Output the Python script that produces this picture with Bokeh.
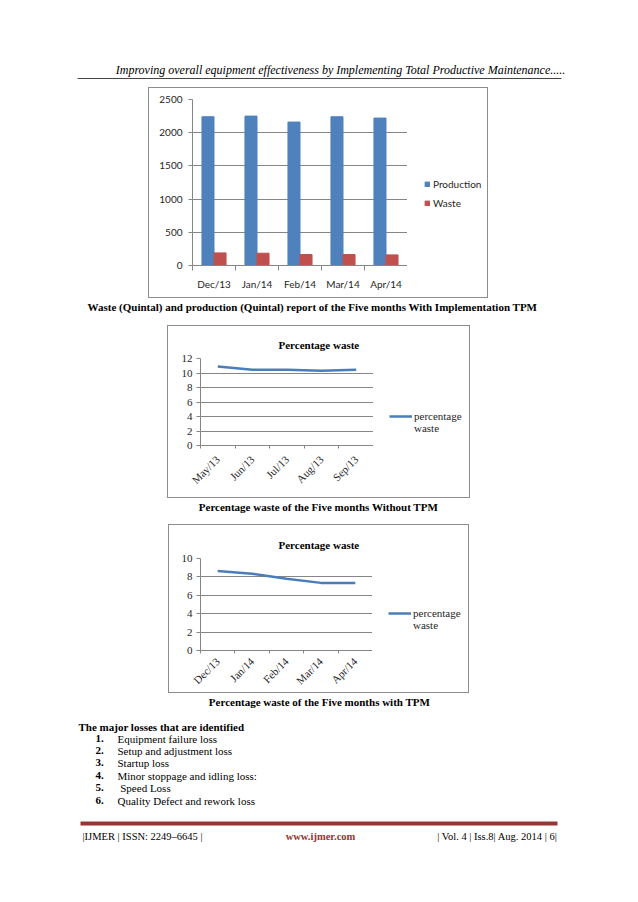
from bokeh.plotting import figure
from bokeh.models import Range1d, Label, Legend, LegendItem, FixedTicker, Spacer
from bokeh.layouts import column, row
from bokeh.embed import file_html
from bokeh.resources import INLINE

# ---------------- data ----------------
header_text = "Improving overall equipment effectiveness by Implementing Total Productive Maintenance....."
months_tpm = ["Dec/13", "Jan/14", "Feb/14", "Mar/14", "Apr/14"]
production = [2240, 2250, 2160, 2240, 2220]
waste = [190, 185, 165, 165, 160]
bar_ticks = [0, 500, 1000, 1500, 2000, 2500]
bar_series = ["Production", "Waste"]

months_pre = ["May/13", "Jun/13", "Jul/13", "Aug/13", "Sep/13"]
pct_waste_without = [10.9, 10.45, 10.45, 10.3, 10.45]
pct_ticks_without = [0, 2, 4, 6, 8, 10, 12]

pct_waste_with = [8.65, 8.35, 7.8, 7.35, 7.35]
pct_ticks_with = [0, 2, 4, 6, 8, 10]

chart_title = "Percentage waste"
legend_words = ["percentage", "waste"]
caption1 = "Waste (Quintal) and production (Quintal) report of the Five months With Implementation TPM"
caption2 = "Percentage waste of the Five months Without TPM"
caption3 = "Percentage waste of the Five months with TPM"
losses_title = "The major losses that are identified"
losses = ["Equipment failure loss", "Setup and adjustment loss", "Startup loss",
          "Minor stoppage and idling loss:", "\u00a0Speed Loss", "Quality Defect and rework loss"]
footer_left = "|IJMER | ISSN: 2249\u20136645 |"
footer_mid = "www.ijmer.com"
footer_right = "| Vol. 4 | Iss.8| Aug. 2014 | 6|"

NAN = float("nan")  # legend-only swatch renderers carry no visible data

# ---------------- styles ----------------
BLUE = "#4F81BD"
RED = "#C0504D"
LINE = "#4A7EBB"
GRID = "#868686"
BOX = "#8C8C8C"
MAROON = "#943634"
TXT = "#262626"
SERIF = "Liberation Serif"
SANS = "Lato"
PAGE_W = 630
BOX_STYLE = {"outline": "1px solid " + BOX, "outline-offset": "-1px"}


def blank_fig(w, h):
    f = figure(width=w, height=h, x_range=Range1d(0, w), y_range=Range1d(h, 0),
               toolbar_location=None, output_backend="svg", min_border=0,
               x_axis_location=None, y_axis_location=None)
    f.grid.visible = False
    f.outline_line_color = None
    f.border_fill_alpha = 0
    f.background_fill_alpha = 0
    return f


def txt(f, x, y, s, size="11px", style="normal", align="left", color="black"):
    f.add_layout(Label(x=x, y=y, text=s, text_font=SERIF, text_font_size=size,
                       text_font_style=style, text_align=align, text_baseline="middle",
                       text_color=color))


def style_axes(p, font, size):
    for ax in (p.xaxis, p.yaxis):
        ax.axis_line_color = GRID
        ax.major_label_text_font = font
        ax.major_label_text_font_size = size
        ax.major_label_text_color = TXT
    p.xaxis.major_tick_line_color = None
    p.xaxis.minor_tick_line_color = GRID
    p.xaxis.minor_tick_in = 0
    p.yaxis.major_tick_line_color = GRID
    p.yaxis.major_tick_in = 0
    p.yaxis.major_tick_out = 4
    p.yaxis.minor_tick_line_color = None
    p.xgrid.visible = False
    p.ygrid.grid_line_color = GRID
    p.outline_line_color = None
    p.border_fill_alpha = 0


# ---------------- header ----------------
head = blank_fig(PAGE_W, 87)
txt(head, 340, 69, header_text, size="12px", style="italic", align="center")
head.segment(x0=[77], y0=[78], x1=[561], y1=[78], line_color="#444444", line_width=1)

# ---------------- chart 1: bars ----------------
n1 = len(months_tpm)
xc1 = [i + 0.5 for i in range(n1)]
p1 = figure(width=259, height=211, x_range=Range1d(0, n1), y_range=Range1d(bar_ticks[0], bar_ticks[-1]),
            toolbar_location=None, output_backend="svg",
            min_border_left=44, min_border_right=0, min_border_top=12, min_border_bottom=33)
p1.vbar(x=[x - 0.14 for x in xc1], top=production, width=0.28, color=BLUE)
p1.vbar(x=[x + 0.14 for x in xc1], top=waste, width=0.28, color=RED)
style_axes(p1, SANS, "10px")
p1.xaxis.ticker = FixedTicker(ticks=xc1, minor_ticks=list(range(n1 + 1)))
p1.xaxis.major_label_overrides = {x: m for x, m in zip(xc1, months_tpm)}
p1.xaxis.minor_tick_out = 5
p1.yaxis.ticker = FixedTicker(ticks=bar_ticks)
p1.xaxis.major_label_standoff = 6
p1.yaxis.major_label_standoff = 6

# legend panel (its frame is aligned with the chart frame by the row layout)
lg1 = blank_fig(81, 211)
lr_prod = lg1.vbar(x=[NAN], top=[NAN], width=0.28, color=BLUE)
lr_waste = lg1.vbar(x=[NAN], top=[NAN], width=0.28, color=RED)
lg1.add_layout(Legend(items=[LegendItem(label=bar_series[0], renderers=[lr_prod]),
                             LegendItem(label=bar_series[1], renderers=[lr_waste])],
                      location=(17, 56), glyph_width=6, glyph_height=6, label_standoff=3,
                      label_height=12, spacing=7, padding=0, margin=0,
                      border_line_color=None, background_fill_alpha=0,
                      label_text_font=SANS, label_text_font_size="10px", label_text_color=TXT))
box1 = row(p1, lg1, styles=BOX_STYLE)

# ---------------- caption 1 ----------------
cap1 = blank_fig(PAGE_W, 27)
txt(cap1, 312, 8, caption1, size="11px", style="bold", align="center")


# ---------------- line charts ----------------
def line_chart(box_w, fig_w, height, bl, bt, bb, months, vals, yticks, leg_vy, standoff):
    n = len(months)
    xc = [i + 0.5 for i in range(n)]
    p = figure(width=fig_w, height=height, x_range=Range1d(0, n),
               y_range=Range1d(yticks[0], yticks[-1]),
               toolbar_location=None, output_backend="svg",
               min_border_left=bl, min_border_right=0, min_border_top=bt, min_border_bottom=bb)
    p.line(xc, vals, line_color=LINE, line_width=2.5, line_join="round")
    style_axes(p, SERIF, "11px")
    p.xaxis.ticker = FixedTicker(ticks=xc, minor_ticks=list(range(n + 1)))
    p.xaxis.major_label_overrides = {x: m for x, m in zip(xc, months)}
    p.xaxis.minor_tick_out = 3
    p.xaxis.major_label_orientation = 0.785398
    p.yaxis.ticker = FixedTicker(ticks=yticks)
    p.xaxis.major_label_standoff = standoff
    p.yaxis.major_label_standoff = 4
    p.title.text = chart_title
    p.title.align = "left"
    p.title.offset = 78
    p.title.standoff = 12
    p.title.vertical_align = "top"
    p.title.text_font = SERIF
    p.title.text_font_size = "11px"
    p.title.text_font_style = "bold"
    p.title.text_color = "black"

    lw = box_w - fig_w
    lg = blank_fig(lw, height)
    lr = lg.line(x=[NAN], y=[NAN], line_color=LINE, line_width=2.5)
    lr_blank = lg.line(x=[NAN], y=[NAN], line_color=LINE, line_alpha=0)
    lg.add_layout(Legend(items=[LegendItem(label=legend_words[0], renderers=[lr]),
                                LegendItem(label=legend_words[1], renderers=[lr_blank])],
                         location=(16, leg_vy), glyph_width=23, glyph_height=12,
                         label_standoff=2, label_height=12, spacing=0, padding=0, margin=0,
                         border_line_color=None, background_fill_alpha=0,
                         label_text_font=SERIF, label_text_font_size="11px",
                         label_text_color=TXT))
    return row(p, lg, styles=BOX_STYLE)


box2 = line_chart(303, 206, 173, 33, 33, 53, months_pre, pct_waste_without, pct_ticks_without, 11, 6)

cap2 = blank_fig(PAGE_W, 26)
txt(cap2, 318, 8, caption2, size="11px", style="bold", align="center")

box3 = line_chart(301, 204, 169, 32, 34, 42, months_tpm, pct_waste_with, pct_ticks_with, 19, 3)

# ---------------- bottom text ----------------
bot = blank_fig(PAGE_W, 201)
txt(bot, 319, 8, caption3, size="11px", style="bold", align="center")
txt(bot, 78, 33, losses_title, size="11px", style="bold")
item_y = [45, 57, 69, 82, 94, 107]
for i, (s, y) in enumerate(zip(losses, item_y)):
    txt(bot, 95, y, f"{i + 1}.", size="11px", style="bold")
    txt(bot, 117, y, s, size="11px")
bot.segment(x0=[80], y0=[130], x1=[557], y1=[130], line_color=MAROON, line_width=4)
txt(bot, 82, 143, footer_left, size="10.5px")
txt(bot, 320, 143, footer_mid, size="10.5px", style="bold", align="center", color=MAROON)
txt(bot, 557, 143, footer_right, size="10.5px", align="right")

layout = column(
    head,
    row(Spacer(width=148, height=211), box1),
    cap1,
    row(Spacer(width=167, height=173), box2),
    cap2,
    row(Spacer(width=168, height=169), box3),
    bot,
)

open("out.html", "w").write(file_html(layout, INLINE))
